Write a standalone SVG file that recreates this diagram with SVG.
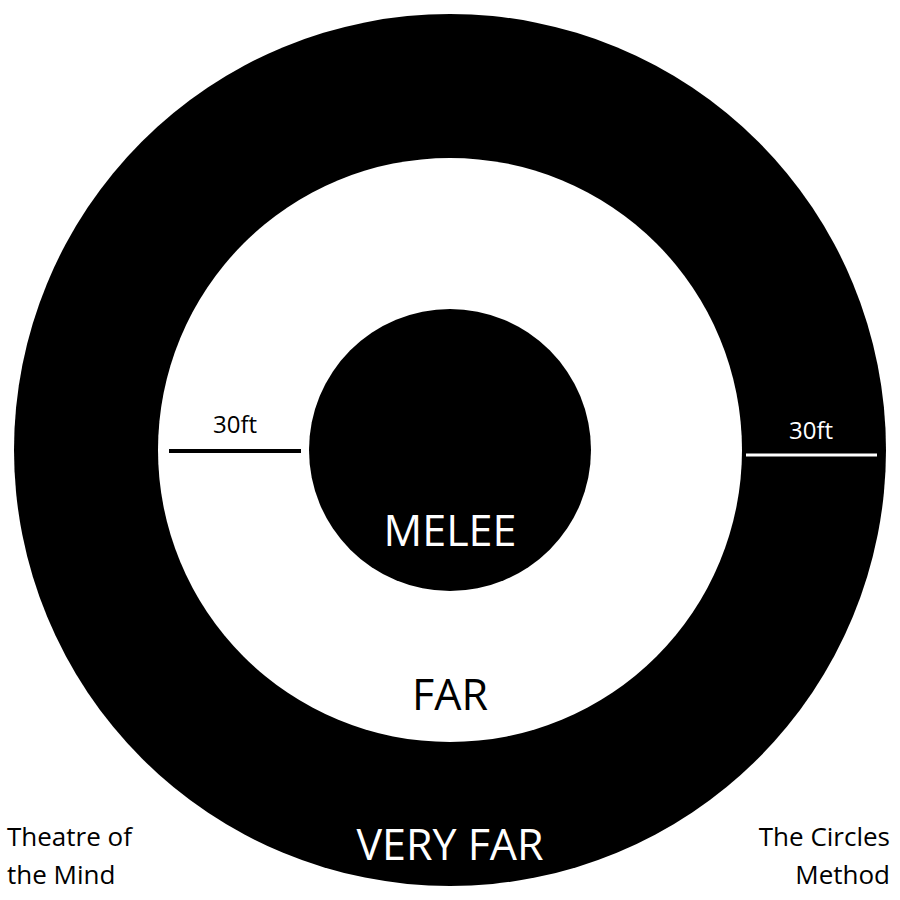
<svg xmlns="http://www.w3.org/2000/svg" width="900" height="900" viewBox="0 0 900 900">
<style>
text{font-family:"Open Sans","Liberation Sans",sans-serif}
.big{font-size:43px;text-anchor:middle}
.sm{font-size:24px}
.c{font-size:26px;fill:#000}
</style>
<rect width="900" height="900" fill="#fff"/>
<g id="very-far"><circle cx="450" cy="450" r="436" fill="#000"/><text class="big" x="450" y="860" fill="#fff">VERY FAR</text></g>
<g id="far"><circle cx="450" cy="450" r="292" fill="#fff"/><text class="big" x="450" y="710" fill="#000">FAR</text></g>
<g id="melee"><circle cx="450" cy="450" r="141" fill="#000"/><text class="big" x="450" y="546" fill="#fff">MELEE</text></g>
<g id="connectors">
<line x1="169" y1="451" x2="301" y2="451" stroke="#000" stroke-width="4"/>
<line x1="746" y1="455" x2="877" y2="455" stroke="#fff" stroke-width="3"/>
</g>
<g id="labels">
<text class="sm" x="235" y="433" text-anchor="middle" fill="#000">30ft</text>
<text class="sm" x="811" y="439" text-anchor="middle" fill="#fff">30ft</text>
<text class="c" x="7" y="846">Theatre of</text>
<text class="c" x="7" y="884">the Mind</text>
<text class="c" x="890" y="846" text-anchor="end">The Circles</text>
<text class="c" x="890" y="884" text-anchor="end">Method</text>
</g>
</svg>
